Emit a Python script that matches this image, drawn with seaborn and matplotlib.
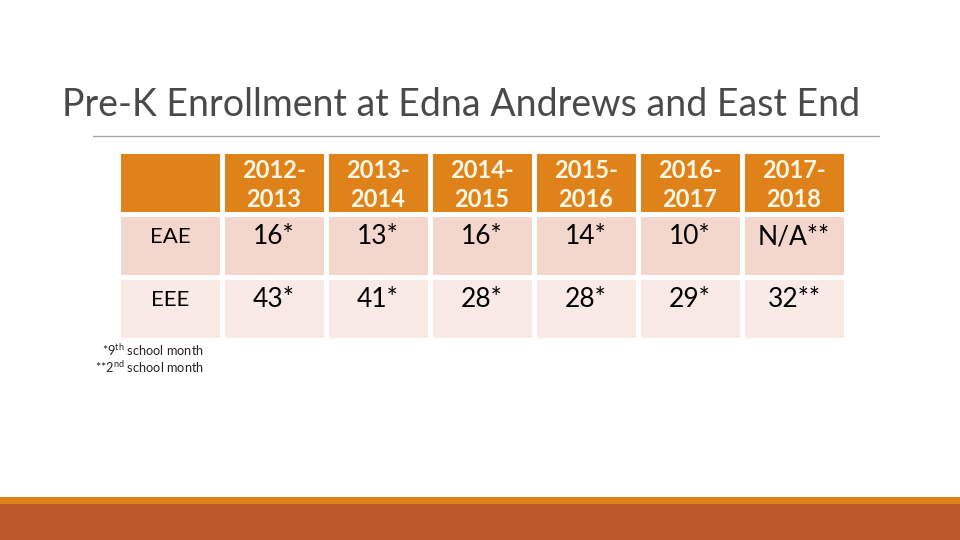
import numpy as np
import pandas as pd
import seaborn as sns
import matplotlib.pyplot as plt
from matplotlib.colors import ListedColormap
from matplotlib.patches import Rectangle

# table content
years = ["2012-\n2013", "2013-\n2014", "2014-\n2015", "2015-\n2016", "2016-\n2017", "2017-\n2018"]
schools = ["EAE", "EEE"]
eae = ["16*", "13*", "16*", "14*", "10*", "N/A**"]
eee = ["43*", "41*", "28*", "28*", "29*", "32**"]
notes = [r"*9$^{\mathrm{th}}$ school month", r"**2$^{\mathrm{nd}}$ school month"]

ORANGE = "#E0821A"
ROW1 = "#F3D7CD"
ROW2 = "#F9EAE5"
RUST = "#BD582C"

sns.set_theme(style="white")
plt.rcParams['font.family'] = ['Lato', 'DejaVu Sans']
plt.rcParams['mathtext.fontset'] = 'custom'
plt.rcParams['mathtext.rm'] = 'Lato'

# row shade index for each cell: 0 header, 1 first row, 2 second row
shade = pd.DataFrame([[0] * 7, [1] * 7, [2] * 7],
                     index=["header"] + schools, columns=[""] + years)

fig = plt.figure(figsize=(9.6, 5.4), dpi=100)
ax = fig.add_axes([118 / 960, 1 - 340 / 540, (846 - 118) / 960, (340 - 151) / 540])
sns.heatmap(shade, ax=ax, cmap=ListedColormap([ORANGE, ROW1, ROW2]), vmin=-0.5, vmax=2.5,
            cbar=False, linewidths=2.5, linecolor="white", xticklabels=False, yticklabels=False)

for j, y in enumerate(years):
    ax.text(j + 1.5, 0.54, y, ha="center", va="center", fontsize=17, fontweight="bold",
            color="#FFF8E6", linespacing=1.35)
rows = [eae, eee]
for i, name in enumerate(schools):
    ax.text(0.5, i + 1.36, name, ha="center", va="center", fontsize=16, color="black")
    for j, v in enumerate(rows[i]):
        ax.text(j + 1.5, i + 1.36, v, ha="center", va="center", fontsize=19, color="black")

# title and rule
fig.text(62 / 960, 1 - 105 / 540, "Pre-K Enrollment at Edna Andrews and East End",
         fontsize=27, color="#4a4a4a", ha="left", va="center")
fig.add_artist(plt.Line2D([93 / 960, 879 / 960], [1 - 136 / 540] * 2, color="#A6A6A6", lw=1))

# footnotes
fig.text(204 / 960, 1 - 350 / 540, notes[0], fontsize=9.2, ha="right", va="center")
fig.text(204 / 960, 1 - 367 / 540, notes[1], fontsize=9.2, ha="right", va="center")

# bottom bars
fig.add_artist(Rectangle((0, 1 - 504 / 540), 1, 7 / 540, transform=fig.transFigure, color=ORANGE, lw=0))
fig.add_artist(Rectangle((0, 0), 1, 36 / 540, transform=fig.transFigure, color=RUST, lw=0))

plt.savefig("out.png", dpi=100)
